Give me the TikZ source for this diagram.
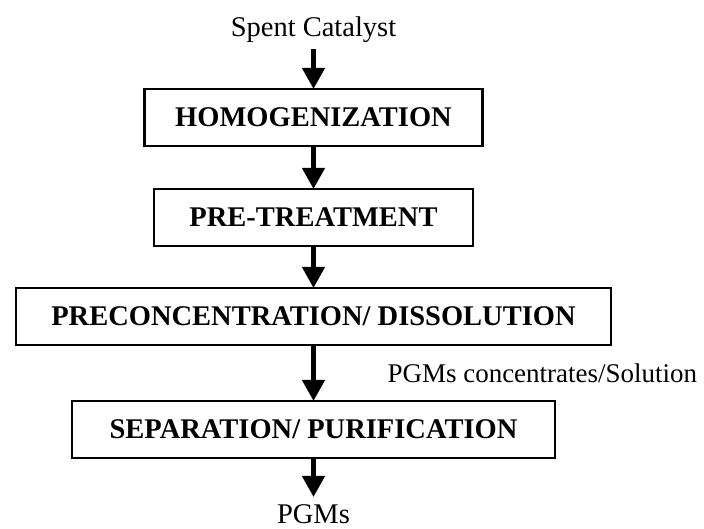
\documentclass[tikz,border=0pt]{standalone}
\usepackage{fontspec}
\setmainfont{Liberation Serif}
\usepackage{tikz}
\usetikzlibrary{
  arrows.meta,
  positioning
}
\tikzset{
  stagebox/.style={draw, line width=2.4pt, inner sep=0pt, outer sep=0pt,
    minimum height=57pt, align=center,
    font=\fontsize{28.5}{34}\selectfont\bfseries},
  flowtext/.style={inner xsep=0pt, outer sep=0pt, font=\fontsize{28.5}{34}\selectfont},
  arr/.style={-{Triangle[length=21pt, width=22pt]}, line width=4.5pt},
}

\begin{document}
\begin{tikzpicture}[x=1pt, y=1pt]
  \useasboundingbox (0,0) rectangle (704,-529);

  % Input
  \node[flowtext, inner ysep=6pt] (spent) at (313.5,-30) {Spent Catalyst};

  % Process stages
  \node[stagebox, minimum width=338pt, below=40pt of spent] (homog) {HOMOGENIZATION};
  \node[stagebox, minimum width=319pt, below=43pt of homog] (pretreat) {PRE-TREATMENT};
  \node[stagebox, minimum width=595pt, below=42pt of pretreat] (precon) {PRECONCENTRATION/ DISSOLUTION};
  \node[stagebox, minimum width=483pt, below=56pt of precon] (separ) {SEPARATION/ PURIFICATION};

  % Output
  \node[flowtext, inner ysep=0pt, below=47pt of separ] (pgms) {PGMs};

  % Arrows
  \foreach \s/\t in {spent/homog, homog/pretreat, pretreat/precon} {
    \draw[arr] (\s) -- (\t);
  }
  \draw[arr] (precon) -- node[flowtext, right=74pt, font=\fontsize{27}{32}\selectfont]
    (conclabel) {PGMs concentrates/Solution} (separ);
  \draw[arr, shorten >=8pt] (separ) -- (pgms);
\end{tikzpicture}
\end{document}
